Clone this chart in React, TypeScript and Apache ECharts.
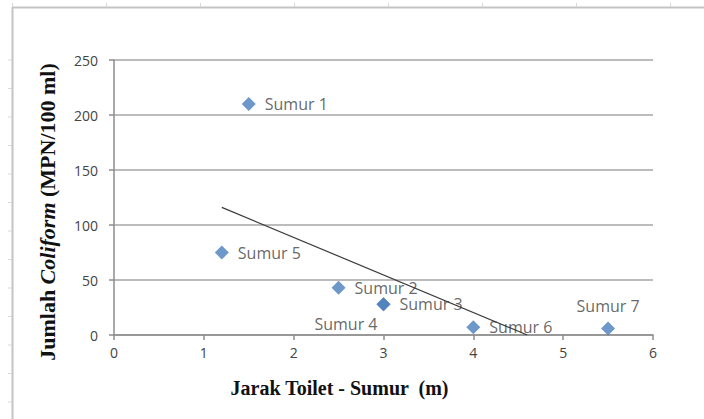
import React, { useEffect, useRef } from "react";
import * as echarts from "echarts";

const wellNames = ["Sumur 1", "Sumur 2", "Sumur 3", "Sumur 4", "Sumur 5", "Sumur 6", "Sumur 7"];
const distances = [1.5, 2.5, 3, 3, 1.2, 4, 5.5];
const coliform = [210, 43, 28, 28, 75, 7, 6];
const trendX = [1.2, 4.6];
const trendY = [116, 0];
const xTicks = [0, 1, 2, 3, 4, 5, 6];
const yTicks = [0, 50, 100, 150, 200, 250];

const labelPos: Record<string, any> = {
  "Sumur 4": { position: "left", offset: [10, 20] },
  "Sumur 7": { position: "top", offset: [0, 2] },
};

export default function App() {
  const ref = useRef<HTMLDivElement>(null);
  useEffect(() => {
    document.body.style.margin = "0";
    if (!ref.current) return;
    const chart = echarts.init(ref.current, undefined, { renderer: "svg" });
    const border = "#c4c4c4";
    const graphics: any[] = [
      { type: "line", shape: { x1: 12, y1: 7.5, x2: 704, y2: 7.5 }, style: { stroke: border, lineWidth: 2 } },
      { type: "line", shape: { x1: 12.5, y1: 7, x2: 12.5, y2: 419 }, style: { stroke: border, lineWidth: 2 } },
    ];
    for (let x = 12; x < 704; x += 94) {
      graphics.push({ type: "line", shape: { x1: x + 0.5, y1: 3, x2: x + 0.5, y2: 7 }, style: { stroke: "#d8d8d8", lineWidth: 1 } });
    }
    for (let y = 60; y < 419; y += 28.5) {
      graphics.push({ type: "line", shape: { x1: 8, y1: y, x2: 12, y2: y }, style: { stroke: "#d8d8d8", lineWidth: 1 } });
    }
    const data = wellNames.map((n, i) => {
      const lp = labelPos[n] || { position: "right", offset: [0, 0] };
      return {
        name: n,
        value: [distances[i], coliform[i]],
        label: { show: true, formatter: n, position: lp.position, offset: lp.offset, distance: 9 },
      };
    });
    chart.setOption({
      animation: false,
      graphic: graphics,
      grid: { left: 114, right: 51, top: 60, bottom: 84 },
      xAxis: {
        type: "value",
        min: 0,
        max: 6,
        interval: 1,
        name: "Jarak Toilet - Sumur  (m)",
        nameLocation: "middle",
        nameGap: 43,
        nameTextStyle: { fontFamily: "Liberation Serif", fontWeight: "bold", fontSize: 20, color: "#111", padding: [0, 88, 0, 0] },
        axisLine: { show: true, lineStyle: { color: "#8c8c8c", width: 1.5 } },
        axisTick: { show: true, length: 5, lineStyle: { color: "#8c8c8c", width: 1.5 } },
        axisLabel: { fontFamily: "Open Sans", fontSize: 14, color: "#444", margin: 10, formatter: (v: number) => (xTicks.includes(v) ? String(v) : "") },
        splitLine: { show: false },
      },
      yAxis: {
        type: "value",
        min: 0,
        max: 250,
        interval: 50,
        name: "{a|Jumlah }{b|Coliform}{a| (MPN/100 ml)}",
        nameLocation: "middle",
        nameGap: 56,
        nameTextStyle: {
          padding: [0, 29, 0, 0],
          rich: {
            a: { fontFamily: "Liberation Serif", fontWeight: "bold", fontSize: 22, color: "#111" },
            b: { fontFamily: "Liberation Serif", fontWeight: "bold", fontStyle: "italic", fontSize: 22, color: "#111" },
          },
        },
        axisLine: { show: true, lineStyle: { color: "#8c8c8c", width: 1.5 } },
        axisTick: { show: true, length: 5, lineStyle: { color: "#8c8c8c", width: 1.5 } },
        axisLabel: { fontFamily: "Open Sans", fontSize: 14, color: "#444", margin: 16, formatter: (v: number) => (yTicks.includes(v) ? String(v) : "") },
        splitLine: { show: true, lineStyle: { color: "#a6a6a6", width: 1.5 } },
      },
      series: [
        {
          type: "scatter",
          symbol: "diamond",
          symbolSize: 14,
          itemStyle: { color: "#4a7ebb" },
          label: { fontFamily: "Open Sans", fontSize: 16, color: "#404040" },
          data,
          z: 3,
        },
        {
          type: "line",
          data: trendX.map((x, i) => [x, trendY[i]]),
          showSymbol: false,
          lineStyle: { color: "#3a3a3a", width: 1.2 },
          z: 4,
        },
      ],
    });
    return () => chart.dispose();
  }, []);
  return <div ref={ref} style={{ width: 704, height: 419 }} />;
}
